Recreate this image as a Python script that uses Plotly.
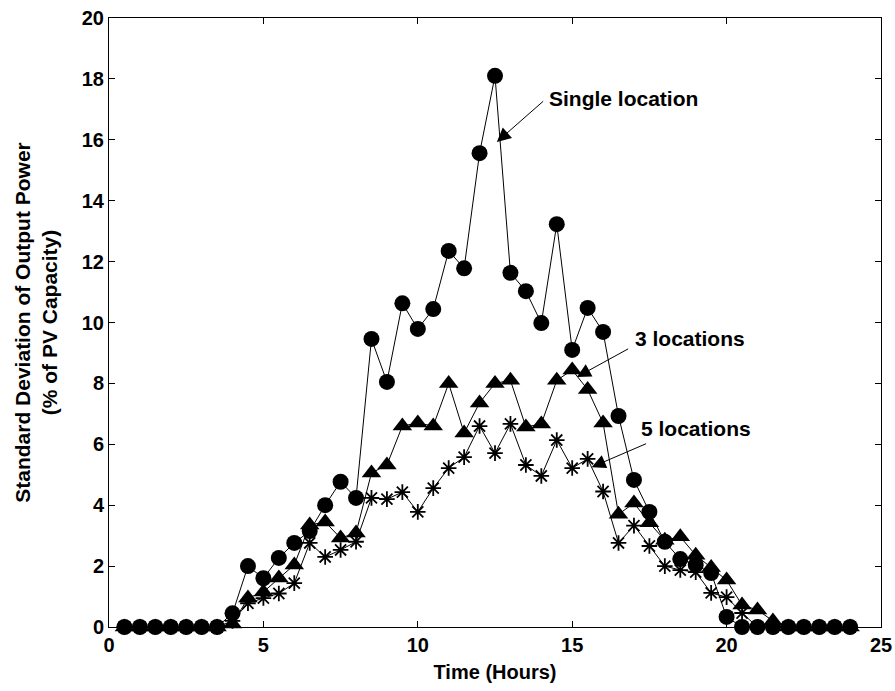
import plotly.graph_objects as go

# Half-hourly time of day (hours)
hours = [0.5, 1.0, 1.5, 2.0, 2.5, 3.0, 3.5, 4.0, 4.5, 5.0, 5.5, 6.0,
         6.5, 7.0, 7.5, 8.0, 8.5, 9.0, 9.5, 10.0, 10.5, 11.0, 11.5, 12.0,
         12.5, 13.0, 13.5, 14.0, 14.5, 15.0, 15.5, 16.0, 16.5, 17.0, 17.5, 18.0,
         18.5, 19.0, 19.5, 20.0, 20.5, 21.0, 21.5, 22.0, 22.5, 23.0, 23.5, 24.0]

# Standard deviation of output power (% of PV capacity)
single_location = [0, 0, 0, 0, 0, 0, 0, 0.45, 2.0, 1.6, 2.27, 2.76,
                   3.15, 4.0, 4.77, 4.24, 9.46, 8.05, 10.63, 9.79, 10.44, 12.35, 11.78, 15.56,
                   18.1, 11.63, 11.03, 9.98, 13.23, 9.1, 10.48, 9.69, 6.93, 4.83, 3.78, 2.8,
                   2.23, 2.04, 1.77, 0.33, 0, 0, 0, 0, 0, 0, 0, 0]
three_locations = [0, 0, 0, 0, 0, 0, 0, 0.1, 0.95, 1.15, 1.61, 2.04,
                   3.35, 3.45, 2.92, 3.09, 5.06, 5.32, 6.6, 6.7, 6.6, 8.0, 6.37, 7.36,
                   8.0, 8.1, 6.57, 6.67, 8.1, 8.44, 7.8, 6.7, 3.7, 4.07, 3.42, 2.85,
                   2.96, 2.36, 1.95, 1.54, 0.72, 0.56, 0.2, 0, 0, 0, 0, 0]
five_locations = [0, 0, 0, 0, 0, 0, 0, 0.2, 0.78, 0.95, 1.1, 1.44,
                  2.76, 2.3, 2.53, 2.8, 4.24, 4.2, 4.43, 3.78, 4.56, 5.22, 5.58, 6.6,
                  5.71, 6.67, 5.32, 4.96, 6.14, 5.22, 5.52, 4.45, 2.76, 3.33, 2.66, 2.0,
                  1.87, 1.8, 1.12, 0.98, 0.46, 0, 0, 0, 0, 0, 0, 0]

font_family = "Liberation Sans, Arial, sans-serif"

fig = go.Figure()

fig.add_trace(go.Scatter(
    x=hours, y=single_location, mode="lines+markers", name="Single location",
    line=dict(color="black", width=1),
    marker=dict(symbol="circle", size=16, color="black"),
    cliponaxis=False
))
fig.add_trace(go.Scatter(
    x=hours, y=three_locations, mode="lines+markers", name="3 locations",
    line=dict(color="black", width=1),
    marker=dict(symbol="triangle-up", size=17, color="black"),
    cliponaxis=False
))
fig.add_trace(go.Scatter(
    x=hours, y=five_locations, mode="lines+markers", name="5 locations",
    line=dict(color="black", width=1),
    marker=dict(symbol="asterisk-open", size=13, color="black",
                line=dict(color="black", width=1.8)),
    cliponaxis=False
))

# Labels with arrows (text, text position, arrow tail, arrow head)
labels = [
    ("Single location", 14.17, 17.37, 14.11, 17.31, 12.56, 15.93),
    ("3 locations", 16.96, 9.46, 16.86, 9.16, 15.15, 8.21),
    ("5 locations", 17.15, 6.53, 17.44, 6.04, 15.63, 5.25),
]
for text, tx, ty, ax, ay, hx, hy in labels:
    fig.add_annotation(x=tx, y=ty, text=text, showarrow=False,
                       xanchor="left", yanchor="middle",
                       font=dict(family=font_family, size=21, color="black", weight="bold"))
    fig.add_annotation(x=hx, y=hy, ax=ax, ay=ay, axref="x", ayref="y",
                       text="", showarrow=True, arrowhead=2, arrowsize=2.8,
                       arrowwidth=1, arrowcolor="black")

axis_style = dict(
    showline=True, linecolor="black", linewidth=1, mirror="ticks",
    ticks="inside", ticklen=6, tickcolor="black", showgrid=False, zeroline=False,
    automargin=False,
    tickfont=dict(family=font_family, size=20, color="black", weight="bold"),
)

fig.update_layout(
    width=895, height=691,
    margin=dict(l=109, r=14, t=18, b=64),
    paper_bgcolor="white", plot_bgcolor="white",
    showlegend=False,
    xaxis=dict(range=[0, 25], dtick=5,
               title=dict(text="Time (Hours)", standoff=9,
                          font=dict(family=font_family, size=20, color="black", weight="bold")),
               **axis_style),
    yaxis=dict(range=[0, 20], dtick=2,
               title=dict(text="Standard Deviation of Output Power<br>(% of PV Capacity)", standoff=18,
                          font=dict(family=font_family, size=21, color="black", weight="bold")),
               **axis_style),
)

# drop the default page margin so the figure fills the window exactly
fig.write_html("out.html", config={"displayModeBar": False},
               post_script="document.body.style.margin = '0';")
